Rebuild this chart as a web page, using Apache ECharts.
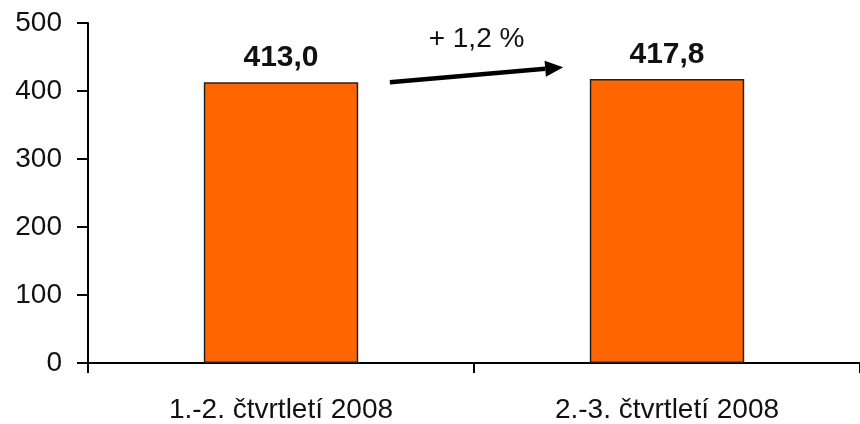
<!DOCTYPE html>
<html><head><meta charset="utf-8">
<script src="https://cdn.jsdelivr.net/npm/echarts@6/dist/echarts.min.js"></script>
<style>html,body{margin:0;padding:0;background:#fff}#c{width:860px;height:424px}</style>
</head><body><div id="c"></div>
<script>
const categories = ['1.-2. čtvrtletí 2008', '2.-3. čtvrtletí 2008'];
const values = [413.0, 417.8];
const yTicks = [0, 100, 200, 300, 400, 500];
const changeLabel = '+ 1,2 %';
// arrow annotation endpoints: [category position, value]
const arrowStart = [0.282, 413];
const arrowEnd = [0.731, 435];

const chart = echarts.init(document.getElementById('c'));
const fontFamily = '"Liberation Sans", Arial, sans-serif';
chart.setOption({
  animation: false,
  grid: {left: 88, right: 0, top: 23, bottom: 61},
  xAxis: {
    type: 'category', data: categories,
    axisLine: {lineStyle: {color: '#000', width: 2}},
    axisTick: {show: true, interval: 0, length: 10, lineStyle: {color: '#000', width: 2}},
    axisLabel: {color: '#111', fontSize: 28, fontFamily, margin: 33}
  },
  yAxis: {
    type: 'value', min: yTicks[0], max: yTicks[yTicks.length-1], interval: 100,
    axisLine: {show: true, lineStyle: {color: '#000', width: 2}},
    axisTick: {show: true, length: 11, lineStyle: {color: '#000', width: 2}},
    splitLine: {show: false},
    axisLabel: {color: '#111', fontSize: 28, fontFamily, margin: 26}
  },
  series: [{
    type: 'bar', data: values, barWidth: '40%',
    itemStyle: {color: '#FF6600', borderColor: '#222', borderWidth: 1.5},
    label: {show: true, position: 'top', distance: 9, color: '#111', fontSize: 30, fontWeight: 'bold', fontFamily,
      formatter: p => p.value.toFixed(1).replace('.', ',')}
  }]
});

function toPx(pt) {
  const a = chart.convertToPixel({gridIndex: 0}, [0, pt[1]]);
  const b = chart.convertToPixel({gridIndex: 0}, [1, pt[1]]);
  return [a[0] + pt[0] * (b[0] - a[0]), a[1]];
}
const p0 = toPx(arrowStart), p1 = toPx(arrowEnd);
const ang = Math.atan2(p1[1] - p0[1], p1[0] - p0[0]);
const hl = 18, hw = 8;
const base = [p1[0] - hl * Math.cos(ang), p1[1] - hl * Math.sin(ang)];
const nx = -Math.sin(ang), ny = Math.cos(ang);
chart.setOption({
  graphic: [
    {type: 'line', shape: {x1: p0[0], y1: p0[1], x2: base[0], y2: base[1]}, style: {stroke: '#000', lineWidth: 4.5}},
    {type: 'polygon', shape: {points: [p1, [base[0] + nx * hw, base[1] + ny * hw], [base[0] - nx * hw, base[1] - ny * hw]]}, style: {fill: '#000'}},
    {type: 'text', x: (p0[0] + p1[0]) / 2, y: 39, style: {text: changeLabel, fill: '#111', font: '28px ' + fontFamily, align: 'center', verticalAlign: 'middle'}}
  ]
});
</script></body></html>
